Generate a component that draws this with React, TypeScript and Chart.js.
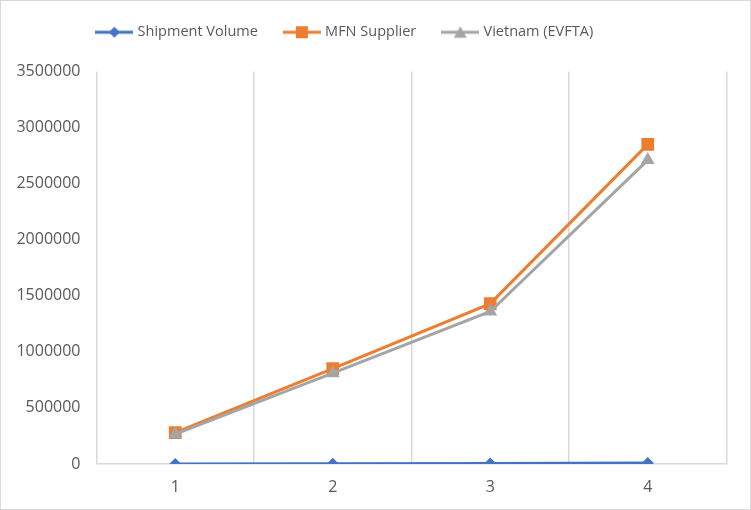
import React, { useEffect, useRef } from "react";
import { Chart, registerables } from "chart.js";

Chart.register(...registerables);

const categories = ["1", "2", "3", "4"];
const shipmentVolume = [1000, 3000, 5000, 8000];
const mfnSupplier = [280000, 850000, 1430000, 2850000];
const vietnamEvfta = [266000, 810000, 1360000, 2710000];
const yTickMin = 0;
const yTickMax = 3500000;
const yTickStep = 500000;
const seriesNames = ["Shipment Volume", "MFN Supplier", "Vietnam (EVFTA)"];
const seriesColors = ["#4472C4", "#ED7D31", "#A5A5A5"];
const markerStyles = ["rectRot", "rect", "triangle"];
const markerRadii = [6, 9, 8];

function legendIcon(color: string, style: string): HTMLCanvasElement {
  const c = document.createElement("canvas");
  c.width = 38;
  c.height = 14;
  const ctx = c.getContext("2d")!;
  ctx.strokeStyle = color;
  ctx.fillStyle = color;
  ctx.lineWidth = 3;
  ctx.beginPath();
  ctx.moveTo(0, 7);
  ctx.lineTo(38, 7);
  ctx.stroke();
  ctx.beginPath();
  if (style === "rectRot") {
    ctx.moveTo(19, 1.5);
    ctx.lineTo(24.5, 7);
    ctx.lineTo(19, 12.5);
    ctx.lineTo(13.5, 7);
  } else if (style === "rect") {
    ctx.rect(13, 1, 12, 12);
  } else {
    ctx.moveTo(19, 1);
    ctx.lineTo(25.5, 12.5);
    ctx.lineTo(12.5, 12.5);
  }
  ctx.closePath();
  ctx.fill();
  return c;
}

export default function App() {
  const ref = useRef<HTMLCanvasElement | null>(null);
  useEffect(() => {
    if (!ref.current) return;
    const values = [shipmentVolume, mfnSupplier, vietnamEvfta];
    const icons = seriesColors.map((c, i) => legendIcon(c, markerStyles[i]));
    const chart = new Chart(ref.current, {
      type: "line",
      data: {
        labels: categories,
        datasets: values.map((v, i) => ({
          label: seriesNames[i],
          data: v,
          borderColor: seriesColors[i],
          backgroundColor: seriesColors[i],
          borderWidth: 3,
          pointStyle: markerStyles[i] as any,
          pointRadius: markerRadii[i],
          pointBorderWidth: 0,
          pointBackgroundColor: seriesColors[i],
          order: 2 - i,
          tension: 0,
        })),
      },
      options: {
        animation: false,
        responsive: false,
        maintainAspectRatio: false,
        layout: { padding: { top: -4, right: 22.5, bottom: 0, left: -36 } },
        plugins: {
          tooltip: { enabled: false },
          subtitle: {
            display: true,
            text: "",
            weight: 500,
            font: { size: 1, lineHeight: 1 },
            padding: { top: 0, bottom: 21 },
          },
          legend: {
            position: "top",
            labels: {
              usePointStyle: true,
              pointStyleWidth: 32,
              padding: 28,
              color: "#595959",
              font: { family: "'Open Sans'", size: 14.5 },
              generateLabels: (ch: any) =>
                ch.data.datasets.map((d: any, i: number) => ({
                  text: d.label,
                  pointStyle: icons[i],
                  fillStyle: seriesColors[i],
                  strokeStyle: seriesColors[i],
                  lineWidth: 0,
                  hidden: false,
                  datasetIndex: i,
                  fontColor: "#595959",
                })),
            },
          },
        },
        scales: {
          x: {
            type: "category",
            offset: true,
            grid: { offset: true, color: "#d9d9d9", lineWidth: 1.5, drawTicks: false },
            border: { display: true, color: "#d9d9d9", width: 1.5 },
            ticks: { color: "#595959", font: { family: "'Open Sans'", size: 16 }, padding: 14 },
            afterFit: (s: any) => { s.height = 44; },
          },
          y: {
            min: yTickMin,
            max: yTickMax,
            grid: { display: false, drawTicks: false },
            border: { display: false },
            ticks: {
              stepSize: yTickStep,
              color: "#595959",
              font: { family: "'Open Sans'", size: 16 },
              padding: 16,
              callback: (v: any) => String(v),
            },
            afterFit: (s: any) => { s.width = 131.5; },
          },
        },
      },
    });
    return () => chart.destroy();
  }, []);
  return (
    <div
      style={{
        position: "fixed",
        left: 0,
        top: 0,
        width: 751,
        height: 510,
        boxSizing: "border-box",
        border: "1.5px solid #d9d9d9",
        background: "#fff",
      }}
    >
      <canvas ref={ref} width={748} height={507} style={{ display: "block" }} />
    </div>
  );
}
